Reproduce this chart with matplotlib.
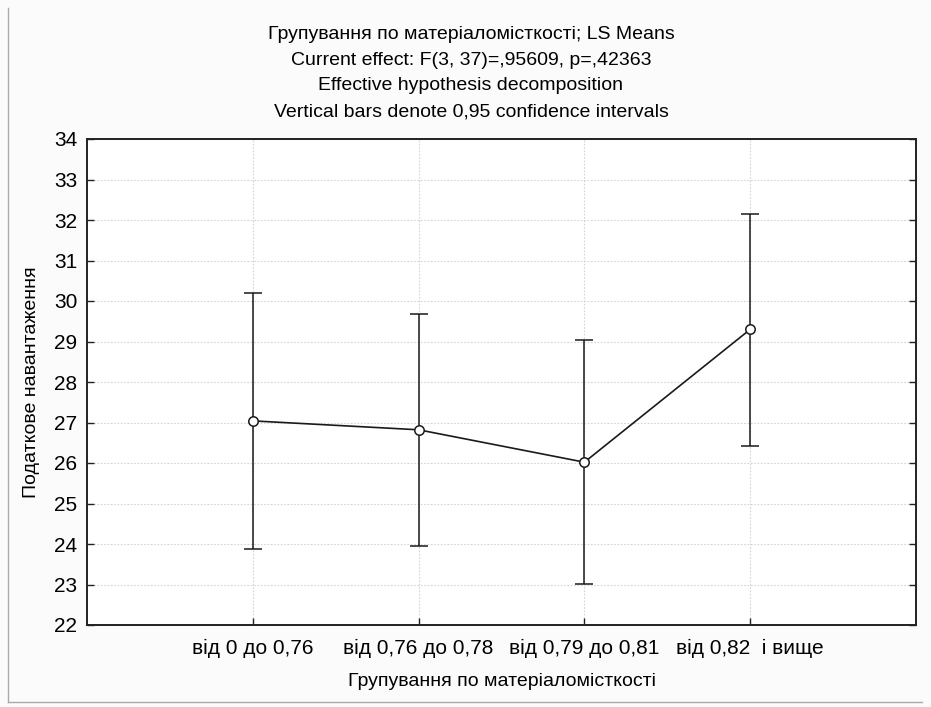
import matplotlib
matplotlib.use("Agg")
import matplotlib.pyplot as plt
from matplotlib.lines import Line2D

plt.rcParams['font.family'] = ['Liberation Sans', 'DejaVu Sans']

categories = ["від 0 до 0,76", "від 0,76 до 0,78", "від 0,79 до 0,81", "від 0,82  і вище"]
means = [27.04, 26.82, 26.02, 29.30]
upper = [30.20, 29.68, 29.03, 32.15]
lower = [23.88, 23.96, 23.02, 26.43]
yticks = list(range(22, 35))

title_lines = [
    "Групування по матеріаломісткості; LS Means",
    "Current effect: F(3, 37)=,95609, p=,42363",
    "Effective hypothesis decomposition",
    "Vertical bars denote 0,95 confidence intervals",
]
xlabel = "Групування по матеріаломісткості"
ylabel = "Податкове навантаження"

W, H = 931, 707
fig = plt.figure(figsize=(W / 100, H / 100), dpi=100)
fig.patch.set_facecolor('#fbfbfb')

ax = fig.add_axes([87 / W, 1 - 625 / H, (916 - 87) / W, (625 - 139) / H])
ax.set_facecolor('white')

x = list(range(len(categories)))
yerr = [[m - l for m, l in zip(means, lower)], [u - m for m, u in zip(means, upper)]]
ax.errorbar(x, means, yerr=yerr, fmt='none', ecolor='#1a1a1a', elinewidth=1.1,
            capsize=6.5, capthick=1.1, zorder=3)
ax.plot(x, means, color='#1a1a1a', lw=1.2, marker='o', markersize=6.8,
        markerfacecolor='white', markeredgecolor='#1a1a1a', markeredgewidth=1.1, zorder=4)

ax.set_xlim(-1, 4)
ax.set_ylim(22, 34)
ax.set_yticks(yticks)
ax.set_xticks(x)
ax.set_xticklabels(categories)
ax.grid(True, color='#d4d4d4', linestyle=(0, (1.5, 1.5)), linewidth=0.8)
ax.set_axisbelow(True)

ax.tick_params(axis='both', direction='in', length=5, width=1, labelsize=15, color='#222222')
ax.tick_params(axis='y', right=True, labelright=False, pad=7)
ax.tick_params(axis='x', pad=10)
for s in ax.spines.values():
    s.set_linewidth(1.4)
    s.set_color('#222222')

ax.set_xlabel(xlabel, fontsize=14, labelpad=11)
ax.set_ylabel(ylabel, fontsize=14, labelpad=10)

for i, line in enumerate(title_lines):
    fig.text(471 / W, 1 - (34.5 + i * 25.7) / H, line, ha='center', va='center', fontsize=14)

# figure border lines
fig.add_artist(Line2D([8 / W, 8 / W], [1 - 702 / H, 1 - 8 / H], transform=fig.transFigure,
                      color='#aaaaaa', lw=1))
fig.add_artist(Line2D([8 / W, 922 / W], [1 - 702 / H, 1 - 702 / H], transform=fig.transFigure,
                      color='#aaaaaa', lw=1))

fig.savefig("out.png", dpi=100, facecolor=fig.get_facecolor())
